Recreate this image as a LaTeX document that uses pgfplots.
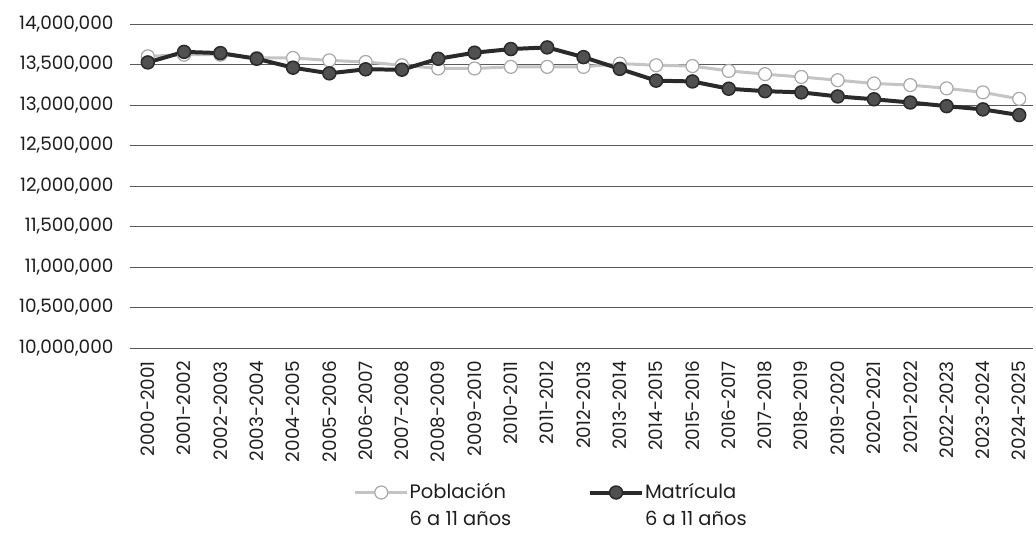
\documentclass[border=0pt]{standalone}
\usepackage{pgfplots}
\pgfplotsset{compat=1.18}
\usepackage{fontspec}
\setmainfont{Poppins}
\definecolor{gridc}{HTML}{5A5A5A}
\definecolor{matc}{HTML}{2A2A2A}
\definecolor{matfill}{HTML}{505050}
\definecolor{pobc}{HTML}{C4C4C4}
\definecolor{pobedge}{HTML}{A8A8A8}
\definecolor{txt}{HTML}{1E1E1E}
\begin{document}
\begin{tikzpicture}[x=1pt,y=1pt]
\useasboundingbox (-130,-185) rectangle (909,349);
\begin{axis}[
  at={(0,0)}, anchor=south west,
  scale only axis, width=906pt, height=325pt,
  xmin=-0.5, xmax=24.38,
  ymin=10000000, ymax=14000000,
  ytick={10000000,10500000,11000000,11500000,12000000,12500000,13000000,13500000,14000000},
  scaled y ticks=false,
  /pgf/number format/fixed,
  /pgf/number format/1000 sep={,},
  /pgf/number format/assume math mode=true,
  yticklabel style={font=\fontsize{18.5}{20}\selectfont, text=txt, inner sep=0pt, xshift=-16pt},
  xtick={0,...,24},
  xticklabels={2000-2001,2001-2002,2002-2003,2003-2004,2004-2005,2005-2006,2006-2007,2007-2008,2008-2009,2009-2010,2010-2011,2011-2012,2012-2013,2013-2014,2014-2015,2015-2016,2016-2017,2017-2018,2018-2019,2019-2020,2020-2021,2021-2022,2022-2023,2023-2024,2024-2025},
  xticklabel style={font=\fontsize{18.5}{20}\selectfont, text=txt, inner sep=0pt, yshift=-13pt, rotate=90, anchor=east},
  axis line style={draw=none},
  major tick length=0pt,
  ymajorgrids, grid style={gridc, line width=0.8pt},
  xmajorgrids=false,
  clip=false,
  legend columns=2,
  legend style={draw=none, fill=none, at={(0.248,-0.446)}, anchor=west, inner sep=0pt,
    font=\fontsize{19.5}{27}\selectfont, text=txt,
    /tikz/every even column/.append style={column sep=76pt},
    nodes={inner sep=1pt}},
  legend cell align=left,
  legend image code/.code={\draw[#1, mark=none] plot coordinates {(0pt,0pt) (26pt,0pt) (52pt,0pt)};
     \draw[#1] plot coordinates {(26pt,0pt)};},
]
\addplot[pobc, line width=3pt, mark=*, mark size=6.5pt, mark options={fill=white, draw=pobedge, line width=1.2pt}] coordinates {
(0,13600000) (1,13620000) (2,13620000) (3,13580000) (4,13580000) (5,13550000) (6,13530000) (7,13490000) (8,13450000) (9,13450000) (10,13470000) (11,13470000) (12,13470000) (13,13510000) (14,13490000) (15,13480000) (16,13420000) (17,13380000) (18,13345000) (19,13305000) (20,13265000) (21,13245000) (22,13205000) (23,13155000) (24,13075000)
};
\addlegendentry{\vphantom{Pb}\smash{\begin{tabular}[t]{@{}l@{}}Población\\6 a 11 años\end{tabular}}}
\addplot[matc, line width=4pt, mark=*, mark size=6.5pt, mark options={fill=matfill, draw=matc, line width=1.5pt}] coordinates {
(0,13525000) (1,13655000) (2,13640000) (3,13570000) (4,13460000) (5,13390000) (6,13440000) (7,13435000) (8,13570000) (9,13645000) (10,13690000) (11,13710000) (12,13590000) (13,13445000) (14,13300000) (15,13290000) (16,13200000) (17,13170000) (18,13155000) (19,13105000) (20,13070000) (21,13030000) (22,12985000) (23,12945000) (24,12875000)
};
\addlegendentry{\vphantom{Pb}\smash{\begin{tabular}[t]{@{}l@{}}Matrícula\\6 a 11 años\end{tabular}}}
\end{axis}
\end{tikzpicture}
\end{document}
